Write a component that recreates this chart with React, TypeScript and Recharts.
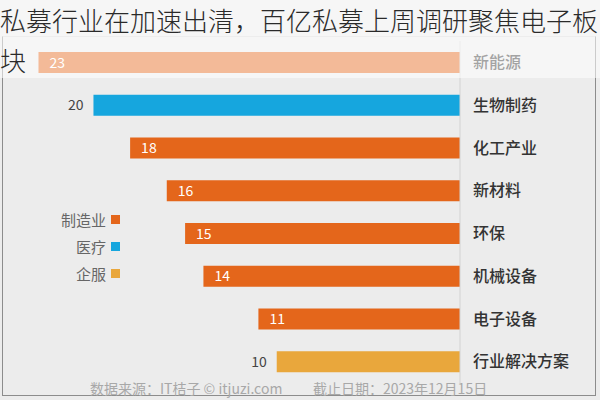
import React from 'react';
import { BarChart, Bar, XAxis, YAxis, Cell, LabelList } from 'recharts';

const categories = ['新能源', '生物制药', '化工产业', '新材料', '环保', '机械设备', '电子设备', '行业解决方案'];
const counts = [23, 20, 18, 16, 15, 14, 11, 10];
const sectors = ['制造业', '医疗', '制造业', '制造业', '制造业', '制造业', '制造业', '企服'];
const legendItems = ['制造业', '医疗', '企服'];
const titleLine1 = '私募行业在加速出清，百亿私募上周调研聚焦电子板';
const titleLine2 = '块';
const footerSource = '数据来源：IT桔子 © itjuzi.com';
const footerDate = '截止日期：2023年12月15日';

const sectorColors: Record<string, string> = {
  制造业: '#e4661b',
  医疗: '#16a6de',
  企服: '#e9a73c',
};

const data = categories.map((name, i) => ({ name, value: counts[i], sector: sectors[i] }));

const FONT = '"Noto Sans CJK SC", "Noto Sans", sans-serif';

const ValueLabel = (props: any) => {
  const { x, y, width, height, value, index } = props;
  const left = Math.min(x, x + width);
  const cy = y + height / 2;
  const outside = data[index].sector !== '制造业';
  return (
    <text
      x={outside ? left - 10 : left + 11}
      y={cy}
      dy="0.36em"
      textAnchor={outside ? 'end' : 'start'}
      fill={outside ? '#444' : '#fff'}
      fontSize={14}
      fontFamily={FONT}
      fontWeight={400}
    >
      {value}
    </text>
  );
};

export default function App() {
  return (
    <div
      style={{
        position: 'absolute',
        left: 0,
        top: 0,
        width: 600,
        height: 400,
        background: '#ececec',
        overflow: 'hidden',
        fontFamily: FONT,
      }}
    >
      <div
        style={{
          position: 'absolute',
          left: 2,
          top: 36,
          width: 594,
          height: 360,
          border: '1px solid #8c8c8c',
          borderTopColor: '#d8d8d8',
          boxSizing: 'border-box',
        }}
      />
      <BarChart
        width={600}
        height={400}
        data={data}
        layout="vertical"
        margin={{ top: 41, right: 0, bottom: 17, left: 0 }}
        barSize={21}
      >
        <XAxis type="number" reversed domain={[0, 25.1]} allowDataOverflow hide />
        <YAxis
          type="category"
          dataKey="name"
          orientation="right"
          width={140}
          axisLine={{ stroke: '#d2d2d2' }}
          tickLine={false}
          tickSize={0}
          tickMargin={13}
          tick={{ fill: '#333', fontSize: 16, fontFamily: FONT, fontWeight: 500, textAnchor: 'start' }}
          interval={0}
        />
        <Bar dataKey="value" isAnimationActive={false}>
          {data.map((d) => (
            <Cell key={d.name} fill={sectorColors[d.sector]} />
          ))}
          <LabelList dataKey="value" content={ValueLabel} />
        </Bar>
      </BarChart>
      <div
        style={{
          position: 'absolute',
          left: 0,
          top: 0,
          width: 600,
          height: 78,
          background: 'rgba(255,255,255,0.55)',
        }}
      />
      <div style={{ position: 'absolute', left: 40, top: 206, width: 80 }}>
        {legendItems.map((item) => (
          <div
            key={item}
            style={{
              display: 'flex',
              justifyContent: 'flex-end',
              alignItems: 'center',
              height: 27,
              fontSize: 15,
              color: '#666',
            }}
          >
            <span>{item}</span>
            <span
              style={{
                display: 'inline-block',
                width: 9,
                height: 9,
                marginLeft: 5,
                background: sectorColors[item],
              }}
            />
          </div>
        ))}
      </div>
      <div
        style={{
          position: 'absolute',
          left: 90,
          top: 378,
          fontSize: 14,
          color: '#a8a8a8',
          whiteSpace: 'nowrap',
        }}
      >
        {footerSource}
      </div>
      <div
        style={{
          position: 'absolute',
          left: 313,
          top: 378,
          fontSize: 14,
          color: '#a8a8a8',
          whiteSpace: 'nowrap',
        }}
      >
        {footerDate}
      </div>
      <div
        style={{
          position: 'absolute',
          left: 0,
          top: 0,
          width: 620,
          fontSize: 26,
          lineHeight: '40px',
          color: '#2a2a2a',
          whiteSpace: 'nowrap',
          fontWeight: 300,
        }}
      >
        <div>{titleLine1}</div>
        <div>{titleLine2}</div>
      </div>
    </div>
  );
}
